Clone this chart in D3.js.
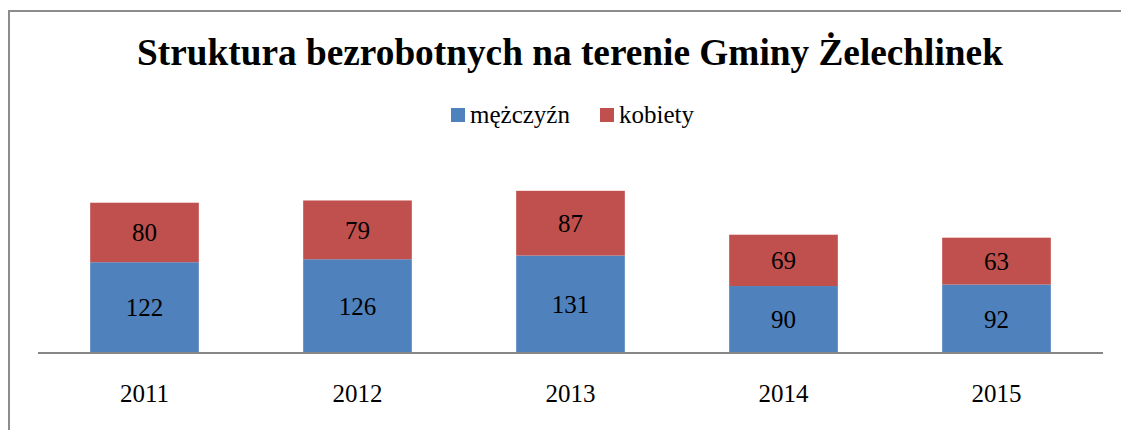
<!DOCTYPE html>
<html><head><meta charset="utf-8">
<script src="https://cdn.jsdelivr.net/npm/d3@7"></script>
<style>body{margin:0;background:#fff}svg{display:block}svg text{font-family:"Liberation Serif","Times New Roman",serif}</style>
</head><body>
<script>
const categories = ["2011","2012","2013","2014","2015"];
const men = [122,126,131,90,92];
const women = [80,79,87,69,63];
const seriesNames = ["mężczyźn","kobiety"];
const colors = ["#4F81BD","#C0504D"];
const title = "Struktura bezrobotnych na terenie Gminy Żelechlinek";

const W=1121,H=430;
const svg=d3.select("body").append("svg").attr("width",W).attr("height",H);
const font='"Liberation Serif","Times New Roman",serif';

// frame
svg.append("path").attr("d",`M9,${H} L9,11 L${W},11`).attr("fill","none").attr("stroke","#8c8c8c").attr("stroke-width",2);

svg.append("text").attr("x",570).attr("y",65).attr("text-anchor","middle")
  .style("font-family",font).attr("font-weight","bold").attr("font-size",37.3).text(title);

const x=d3.scaleBand().domain(categories).range([38,1103]).paddingInner(0.49).paddingOuter(0.245);
const y=d3.scaleLinear().domain([0,250]).range([353,167]);

const data=categories.map((c,i)=>({cat:c,men:men[i],women:women[i]}));
const stack=d3.stack().keys(["men","women"])(data);

const g=svg.append("g");
stack.forEach((s,si)=>{
  g.selectAll(null).data(s).enter().append("rect")
    .attr("x",d=>x(d.data.cat)).attr("width",x.bandwidth())
    .attr("y",d=>y(d[1])).attr("height",d=>y(d[0])-y(d[1]))
    .attr("fill",colors[si]);
  g.selectAll(null).data(s).enter().append("text")
    .attr("x",d=>x(d.data.cat)+x.bandwidth()/2)
    .attr("y",d=>(y(d[0])+y(d[1]))/2)
    .attr("dy","0.35em").attr("text-anchor","middle")
    .style("font-family",font).attr("font-size",25).attr("fill","#000")
    .text(d=>d[1]-d[0]);
});

// axis
const ax=svg.append("g").attr("transform","translate(0,353)").call(d3.axisBottom(x).tickSize(0).tickPadding(0));
ax.attr("font-family",null);
ax.select(".domain").attr("stroke","#868686").attr("stroke-width",2).attr("d","M38,0H1103");
ax.selectAll(".tick text").style("font-family",font).attr("font-size",25).attr("fill","#000").attr("dy",null).attr("y",49);

// legend
const leg=svg.append("g");
const legX=[451,600];
seriesNames.forEach((n,i)=>{
  leg.append("rect").attr("x",legX[i]).attr("y",108).attr("width",14).attr("height",14).attr("fill",colors[i]);
  leg.append("text").attr("x",legX[i]+19).attr("y",123).style("font-family",font).attr("font-size",25).text(n);
});
</script>
</body></html>
